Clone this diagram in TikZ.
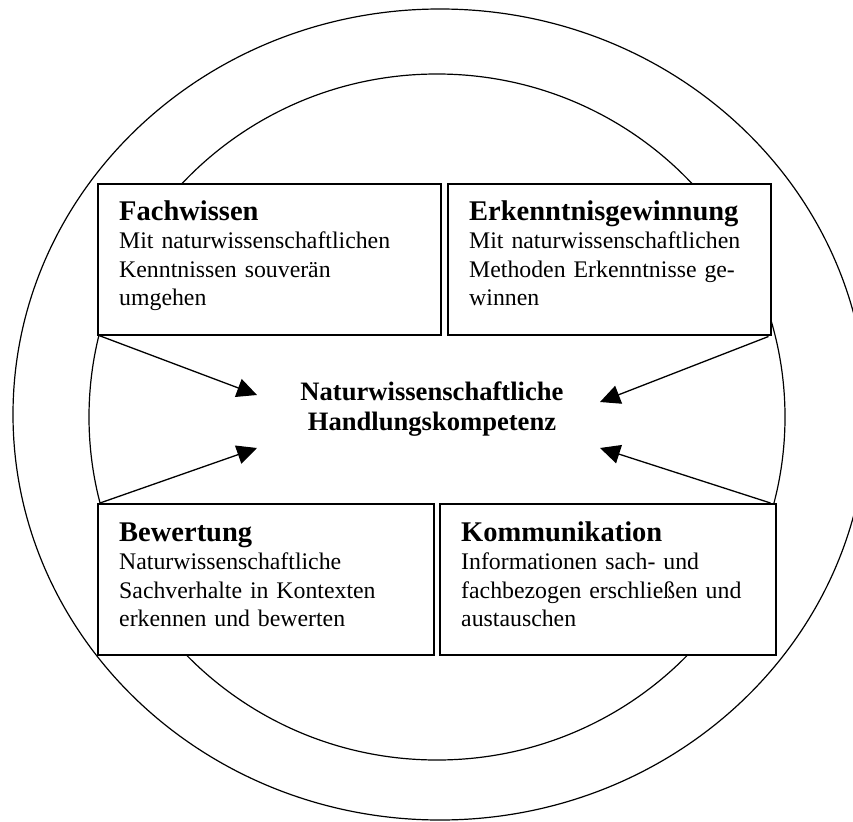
\documentclass[tikz,border=0pt]{standalone}
\usepackage{fontspec}
\setmainfont{Liberation Serif}
\usetikzlibrary{arrows.meta,calc}
\newcommand\boxhead[1]{{\fontsize{28.5}{28.5}\selectfont\bfseries #1}}
\begin{document}
\begin{tikzpicture}[x=1pt,y=-1pt,
  ring/.style={draw=black, line width=1.2pt},
  box/.style={draw=black, fill=white, line width=1.5pt, rectangle, inner sep=0pt, anchor=north west},
  boxtext/.style={anchor=base west, inner sep=0pt, text width=330pt, align=left, font=\fontsize{23.8}{28.5}\selectfont},
  arr/.style={line width=1.3pt, -{Triangle[length=20pt,width=19pt]}}]
\useasboundingbox (0,0) rectangle (853,821);
\clip (0,0) rectangle (853,821);
\fill[white] (0,0) rectangle (853,821);
% rings
\draw[ring] (440,414.5) ellipse [x radius=427, y radius=405.5];
\draw[ring] (437,417) ellipse [x radius=348, y radius=343];
% boxes
\node[box, minimum width=343pt, minimum height=151pt] (fwbox) at (97,183) {};
\node[box, minimum width=323pt, minimum height=151pt] (ekbox) at (447,183) {};
\node[box, minimum width=336pt, minimum height=151pt] (bwbox) at (97,503) {};
\node[box, minimum width=336pt, minimum height=151pt] (kobox) at (439,503) {};
% texts
\node[boxtext] (fwtext) at (119,220) {\boxhead{Fachwissen}\\Mit naturwissenschaftlichen\\Kenntnissen souverän\\umgehen};
\node[boxtext] (ektext) at (469,220) {\boxhead{Erkenntnisgewinnung}\\Mit naturwissenschaftlichen\\Methoden Erkenntnisse ge-\\winnen};
\node[boxtext] (bwtext) at (119,541) {\boxhead{Bewertung}\\Naturwissenschaftliche\\Sachverhalte in Kontexten\\erkennen und bewerten};
\node[boxtext] (kotext) at (461,541) {\boxhead{Kommunikation}\\Informationen sach- und\\fachbezogen erschließen und\\austauschen};
\node[anchor=base, inner sep=0pt, text width=320pt, align=center, font=\fontsize{26.6}{30.7}\selectfont\bfseries] (nhk) at (432,400) {Naturwissenschaftliche\\Handlungskompetenz};
% arrows
\coordinate (tfw) at (257,395);
\coordinate (tek) at (600,402);
\coordinate (tbw) at (257,448);
\coordinate (tko) at (600,448);
\draw[arr] ($(fwbox.south west)+(2,0)$) -- (tfw);
\draw[arr] ($(ekbox.south east)+(-3,1)$) -- (tek);
\draw[arr] ($(bwbox.north west)+(3,0)$) -- (tbw);
\draw[arr] ($(kobox.north east)+(-6,0)$) -- (tko);
\end{tikzpicture}
\end{document}
